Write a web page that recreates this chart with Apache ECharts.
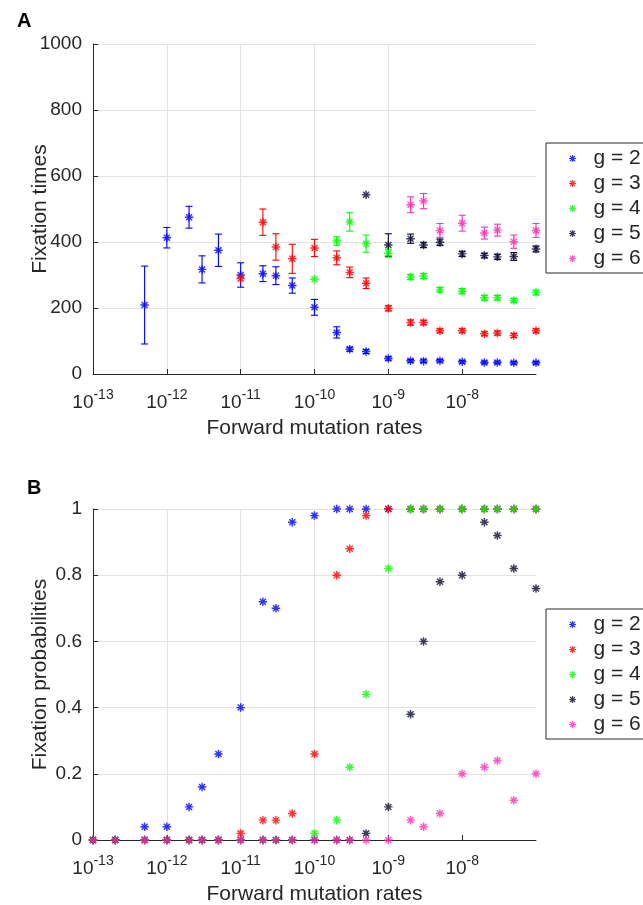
<!DOCTYPE html>
<html><head><meta charset="utf-8">
<script src="https://cdn.jsdelivr.net/npm/echarts@6/dist/echarts.min.js"></script>
<style>html,body{margin:0;padding:0;background:#fff}#c{width:643px;height:905px}</style>
</head><body><div id="c"></div>
<script>
// ---------------- DATA ----------------
const rates = [1e-13, 2e-13, 5e-13, 1e-12, 2e-12, 3e-12, 5e-12, 1e-11, 2e-11, 3e-11, 5e-11, 1e-10,
               2e-10, 3e-10, 5e-10, 1e-9, 2e-9, 3e-9, 5e-9, 1e-8, 2e-8, 3e-8, 5e-8, 1e-7];
const seriesNames = ['g = 2', 'g = 3', 'g = 4', 'g = 5', 'g = 6'];

// Panel A: fixation times (mean) and error half-widths (null = no fixation)
const timesG2 = [null, null, 209, 413, 475, 317, 375, 300, 304, 298, 268, 202, 126, 75, 68, 47, 40, 39, 40, 37, 35, 35, 34, 34];
const errG2   = [null, null, 118, 31, 33, 41, 49, 37, 24, 27, 23, 24, 17, 6, 6, 5, 4, 4, 4, 4, 4, 4, 4, 4];
const timesG3 = [null, null, null, null, null, null, null, 289, 460, 385, 349, 382, 352, 308, 275, 199, 156, 156, 131, 131, 122, 124, 117, 131];
const errG3   = [null, null, null, null, null, null, null, 0, 40, 40, 44, 26, 21, 16, 16, 8, 8, 7, 6, 6, 6, 6, 6, 6];
const timesG4 = [null, null, null, null, null, null, null, null, null, null, null, 287, 403, 461, 395, 366, 294, 297, 255, 251, 231, 231, 223, 247];
const errG4   = [null, null, null, null, null, null, null, null, null, null, null, 0, 13, 28, 26, 12, 8, 8, 7, 8, 7, 7, 6, 7];
const timesG5 = [null, null, null, null, null, null, null, null, null, null, null, null, null, null, 543, 391, 410, 391, 399, 364, 359, 355, 356, 379];
const errG5   = [null, null, null, null, null, null, null, null, null, null, null, null, null, null, 0, 34, 14, 8, 10, 8, 7, 8, 12, 9];
const timesG6 = [null, null, null, null, null, null, null, null, null, null, null, null, null, null, null, null, 513, 524, 435, 457, 427, 436, 401, 435];
const errG6   = [null, null, null, null, null, null, null, null, null, null, null, null, null, null, null, null, 24, 23, 21, 24, 18, 18, 20, 21];

// Panel B: fixation probabilities
const probG2 = [0, 0, 0.04, 0.04, 0.10, 0.16, 0.26, 0.40, 0.72, 0.70, 0.96, 0.98, 1, 1, 1, 1, 1, 1, 1, 1, 1, 1, 1, 1];
const probG3 = [0, 0, 0, 0, 0, 0, 0, 0.02, 0.06, 0.06, 0.08, 0.26, 0.80, 0.88, 0.98, 1, 1, 1, 1, 1, 1, 1, 1, 1];
const probG4 = [0, 0, 0, 0, 0, 0, 0, 0, 0, 0, 0, 0.02, 0.06, 0.22, 0.44, 0.82, 1, 1, 1, 1, 1, 1, 1, 1];
const probG5 = [0, 0, 0, 0, 0, 0, 0, 0, 0, 0, 0, 0, 0, 0, 0.02, 0.10, 0.38, 0.60, 0.78, 0.80, 0.96, 0.92, 0.82, 0.76];
const probG6 = [0, 0, 0, 0, 0, 0, 0, 0, 0, 0, 0, 0, 0, 0, 0, 0, 0.06, 0.04, 0.08, 0.20, 0.22, 0.24, 0.12, 0.20];

// Tick values / labels
const xTicks = [1e-13, 1e-12, 1e-11, 1e-10, 1e-9, 1e-8];
const yTicksA = [0, 200, 400, 600, 800, 1000];
const yTicksB = [0, 0.2, 0.4, 0.6, 0.8, 1];

// ---------------- STYLE ----------------
const colors = ['#0000ff', '#ff0000', '#00ff00', '#0b0b33', '#ff30b4'];
const FONT = '"Liberation Sans", Arial, Helvetica, sans-serif';
const INK = '#262626';
const GRIDC = '#e2e2e2';
const STAR = 'path://M0 8.3L20 8.3L20 11.7L0 11.7Z M8.3 0L11.7 0L11.7 20L8.3 20Z ' +
  'M4.13 1.73L18.27 15.87L15.87 18.27L1.73 4.13Z M18.27 4.13L4.13 18.27L1.73 15.87L15.87 1.73Z';

const timesAll = [timesG2, timesG3, timesG4, timesG5, timesG6];
const errAll = [errG2, errG3, errG4, errG5, errG6];
const probAll = [probG2, probG3, probG4, probG5, probG6];

function xAxisFor(gi) {
  return {
    type: 'log', logBase: 10, gridIndex: gi, min: 1e-13, max: 1e-7,
    name: 'Forward mutation rates', nameLocation: 'middle', nameGap: 44, nameMoveOverlap: false,
    nameTextStyle: { fontSize: 21, color: INK, fontFamily: FONT },
    axisLine: { show: true, lineStyle: { color: INK, width: 1 } },
    axisTick: { show: true, inside: true, length: 5, customValues: xTicks, lineStyle: { color: INK } },
    minorTick: { show: false },
    splitLine: { show: true, showMaxLine: false, lineStyle: { color: GRIDC, width: 1 } },
    axisLabel: {
      customValues: xTicks, margin: 14, color: INK, fontFamily: FONT, hideOverlap: false,
      formatter: v => '{b|10}{s|' + Math.round(Math.log10(v)) + '}',
      rich: {
        b: { fontSize: 19, lineHeight: 24, verticalAlign: 'bottom', color: INK, fontFamily: FONT },
        s: { fontSize: 14, lineHeight: 10, verticalAlign: 'top', color: INK, fontFamily: FONT }
      }
    }
  };
}
function yAxisFor(gi, name, max, interval, ticks) {
  return {
    type: 'value', gridIndex: gi, min: 0, max: max, interval: interval,
    name: name, nameLocation: 'middle', nameGap: 42, nameRotate: 90, nameMoveOverlap: false,
    nameTextStyle: { fontSize: 21, color: INK, fontFamily: FONT },
    axisLine: { show: true, lineStyle: { color: INK, width: 1 } },
    axisTick: { show: true, inside: true, length: 5, customValues: ticks, lineStyle: { color: INK } },
    splitLine: { show: true, lineStyle: { color: GRIDC, width: 1 } },
    axisLabel: { customValues: ticks, margin: 11, fontSize: 19, color: INK, fontFamily: FONT,
                 formatter: v => String(v) }
  };
}

function errRender(params, api) {
  const x = api.value(0), lo = api.value(1), hi = api.value(2);
  const p1 = api.coord([x, hi]), p2 = api.coord([x, lo]);
  const w = 3.5;
  const style = { stroke: api.visual('color'), lineWidth: 1.1, fill: null };
  return {
    type: 'group', children: [
      { type: 'line', shape: { x1: p1[0], y1: p1[1], x2: p2[0], y2: p2[1] }, style: style },
      { type: 'line', shape: { x1: p1[0] - w, y1: p1[1], x2: p1[0] + w, y2: p1[1] }, style: style },
      { type: 'line', shape: { x1: p2[0] - w, y1: p2[1], x2: p2[0] + w, y2: p2[1] }, style: style }
    ]
  };
}

const series = [];
// Panel A
for (let g = 0; g < 5; g++) {
  const eb = [], pts = [];
  rates.forEach((r, i) => {
    const m = timesAll[g][i], e = errAll[g][i];
    if (m === null) return;
    pts.push([r, m]);
    if (e) eb.push([r, m - e, m + e]);
  });
  series.push({
    type: 'custom', name: 'err ' + seriesNames[g], xAxisIndex: 0, yAxisIndex: 0,
    renderItem: errRender, data: eb, encode: { x: 0, y: [1, 2] }, clip: false,
    itemStyle: { color: colors[g] }, silent: true, z: 2
  });
  series.push({
    type: 'scatter', name: seriesNames[g], xAxisIndex: 0, yAxisIndex: 0, data: pts,
    symbol: STAR, symbolSize: 8.5, itemStyle: { color: colors[g] }, clip: false, silent: true, z: 2
  });
}
// Panel B
for (let g = 0; g < 5; g++) {
  series.push({
    type: 'scatter', name: seriesNames[g], xAxisIndex: 1, yAxisIndex: 1,
    data: rates.map((r, i) => [r, probAll[g][i]]),
    symbol: STAR, symbolSize: 8.5, itemStyle: { color: colors[g] }, clip: false, silent: true, z: 2
  });
}

function legendAt(top) {
  return {
    orient: 'vertical', left: 546, top: top, padding: [5, 8, 4, 23], itemGap: 4,
    itemWidth: 32, itemHeight: 7, icon: STAR, selectedMode: false,
    backgroundColor: '#ffffff', borderColor: INK, borderWidth: 1, borderRadius: 0,
    data: seriesNames,
    textStyle: { fontSize: 21, color: INK, fontFamily: FONT }
  };
}

const option = {
  animation: false,
  backgroundColor: '#ffffff',
  title: [
    { text: 'A', left: 17, top: 11, padding: 0, textStyle: { fontSize: 20, fontWeight: 'bold', color: '#000', fontFamily: FONT } },
    { text: 'B', left: 27, top: 478, padding: 0, textStyle: { fontSize: 20, fontWeight: 'bold', color: '#000', fontFamily: FONT } }
  ],
  grid: [
    { left: 93, top: 44, width: 443, height: 330, outerBoundsMode: 'none', containLabel: false },
    { left: 93, top: 509, width: 443, height: 331, outerBoundsMode: 'none', containLabel: false }
  ],
  xAxis: [xAxisFor(0), xAxisFor(1)],
  yAxis: [
    yAxisFor(0, 'Fixation times', 1000, 200, yTicksA),
    yAxisFor(1, 'Fixation probabilities', 1, 0.2, yTicksB)
  ],
  legend: [legendAt(143), legendAt(609)],
  series: series
};

const chart = echarts.init(document.getElementById('c'), null, { renderer: 'canvas' });
chart.setOption(option);
</script>
</body></html>
